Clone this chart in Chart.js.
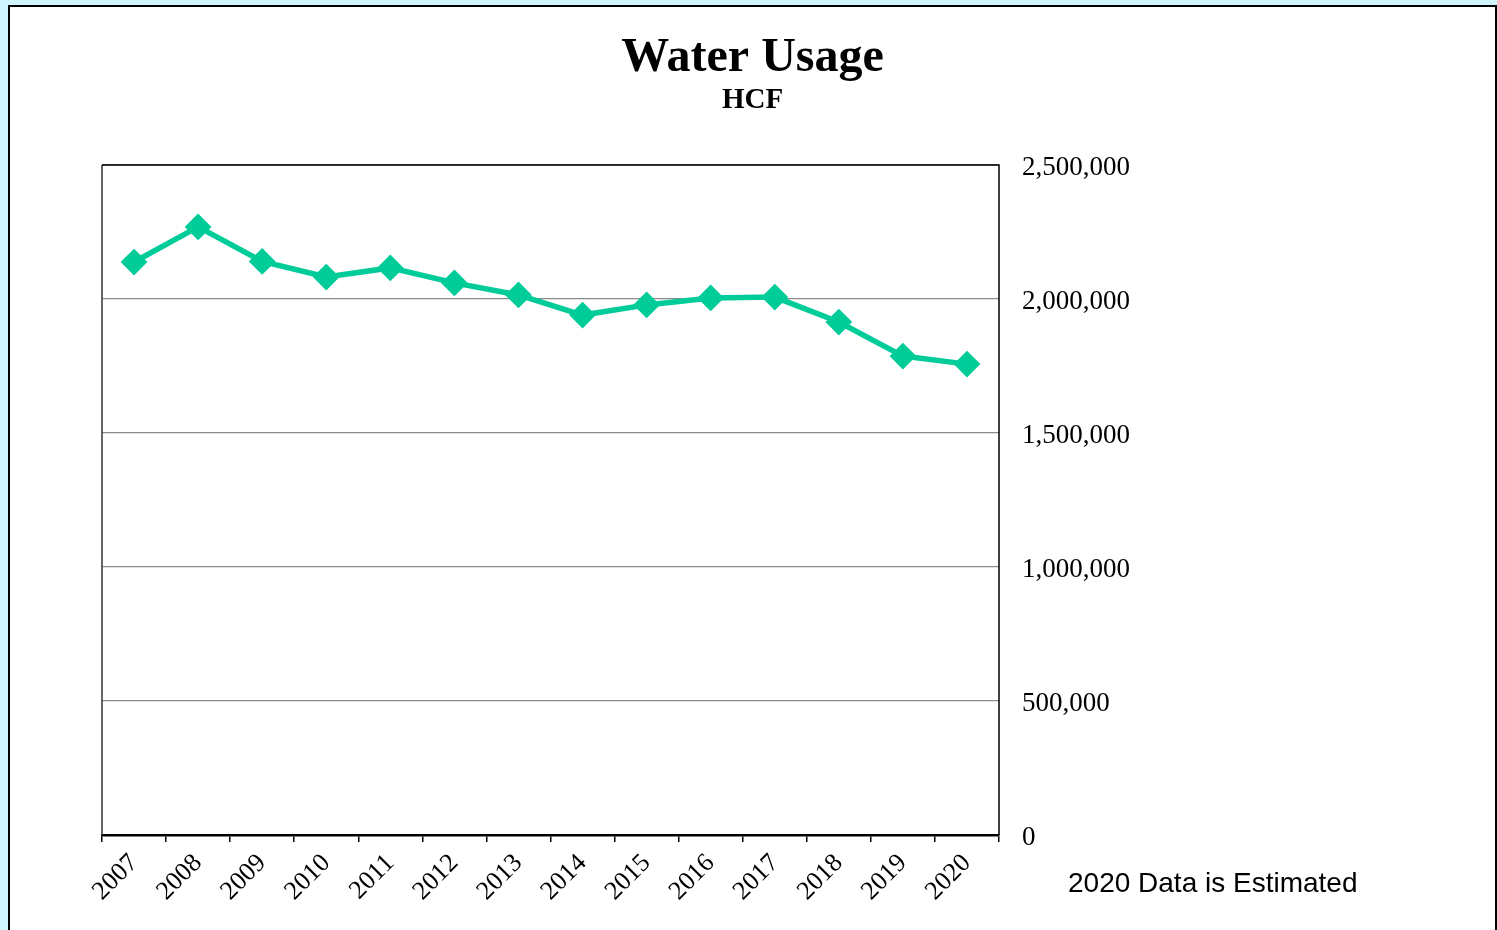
<!DOCTYPE html>
<html>
<head>
<meta charset="utf-8">
<script src="https://cdn.jsdelivr.net/npm/chart.js@4.4.1/dist/chart.umd.min.js"></script>
<style>
  html, body { margin: 0; padding: 0; background: #CFF5FF; width: 1497px; height: 930px; overflow: hidden; }
  #frame { position: absolute; left: 8px; top: 5px; width: 1489px; height: 940px; box-sizing: border-box; border: 2px solid #000; background: #fff; }
  #c { position: absolute; left: 0; top: 0; }
  #note { position: absolute; left: 1058px; top: 860px; font-family: "Liberation Sans", Arial, sans-serif; font-size: 28px; color: #000; white-space: nowrap; }
</style>
</head>
<body>
<div id="frame">
  <canvas id="c" width="1485" height="923"></canvas>
  <div id="note">2020 Data is Estimated</div>
</div>
<script>
const years = ["2007","2008","2009","2010","2011","2012","2013","2014","2015","2016","2017","2018","2019","2020"];
const usageHCF = [2138000, 2269000, 2140000, 2082000, 2116000, 2060000, 2015000, 1940000, 1978000, 2004000, 2007000, 1914000, 1787000, 1757000];
const yTickValues = [0, 500000, 1000000, 1500000, 2000000, 2500000];
const titleText = "Water Usage";
const subtitleText = "HCF";

const areaBorder = {
  id: 'areaBorder',
  afterDatasetsDraw(chart) {
    const {ctx, chartArea: a} = chart;
    ctx.save();
    ctx.lineWidth = 1.5;
    ctx.strokeStyle = '#333';
    ctx.beginPath();
    ctx.moveTo(a.left, a.bottom);
    ctx.lineTo(a.left, a.top);
    ctx.stroke();
    ctx.strokeStyle = '#000';
    ctx.beginPath();
    ctx.moveTo(a.left, a.top);
    ctx.lineTo(a.right, a.top);
    ctx.lineTo(a.right, a.bottom);
    ctx.stroke();
    ctx.restore();
  }
};

// nudge right-axis labels down slightly so serif digits sit centred on gridlines
const labelNudge = {
  id: 'labelNudge',
  beforeDraw(chart) {
    const s = chart.scales.y;
    const items = s.getLabelItems();
    items.forEach(it => {
      if (!it._nudged) { it.options.translation[1] += 3; it._nudged = true; }
    });
  }
};

const serif = '"Liberation Serif", "Times New Roman", serif';

new Chart(document.getElementById('c'), {
  type: 'line',
  data: {
    labels: years,
    datasets: [{
      data: usageHCF,
      yAxisID: 'y',
      borderColor: '#00CC99',
      backgroundColor: '#00CC99',
      borderWidth: 5.5,
      pointStyle: 'rectRot',
      pointRadius: 9.5,
      pointHoverRadius: 9.5,
      tension: 0,
      clip: false
    }]
  },
  options: {
    responsive: false,
    animation: false,
    events: [],
    layout: { padding: 0 },
    plugins: {
      legend: { display: false },
      tooltip: { enabled: false },
      title: {
        display: true,
        text: titleText,
        color: '#000',
        font: { family: serif, size: 48, weight: 'bold', lineHeight: 1 },
        padding: { top: 28, bottom: 0 }
      },
      subtitle: {
        display: true,
        text: subtitleText,
        color: '#000',
        font: { family: serif, size: 29, weight: 'bold', lineHeight: 1 },
        padding: { top: 3.5, bottom: 49.5 }
      }
    },
    scales: {
      x: {
        type: 'category',
        offset: true,
        grid: { offset: true, drawOnChartArea: false, drawTicks: true, tickLength: 7, color: '#000', lineWidth: 1.5 },
        border: { display: true, color: '#000', width: 2.5 },
        ticks: {
          color: '#000',
          maxRotation: 45, minRotation: 45,
          autoSkip: false,
          padding: 6,
          font: { family: serif, size: 26 }
        },
        afterFit(scale) { scale.height = 95; }
      },
      yLeft: {
        position: 'left',
        display: true,
        grid: { display: false, drawTicks: false },
        border: { display: false },
        ticks: { display: false },
        afterFit(scale) { scale.width = 92; }
      },
      y: {
        position: 'right',
        min: 0, max: 2500000,
        afterBuildTicks(scale) { scale.ticks = yTickValues.map(v => ({ value: v })); },
        grid: { color: '#8a8a8a', lineWidth: 1.2, drawTicks: false },
        border: { display: false },
        ticks: {
          color: '#000',
          padding: 23,
          font: { family: serif, size: 27 },
          callback: v => v.toLocaleString('en-US')
        },
        afterFit(scale) { scale.width = 496; }
      }
    }
  },
  plugins: [areaBorder, labelNudge]
});
</script>
</body>
</html>
